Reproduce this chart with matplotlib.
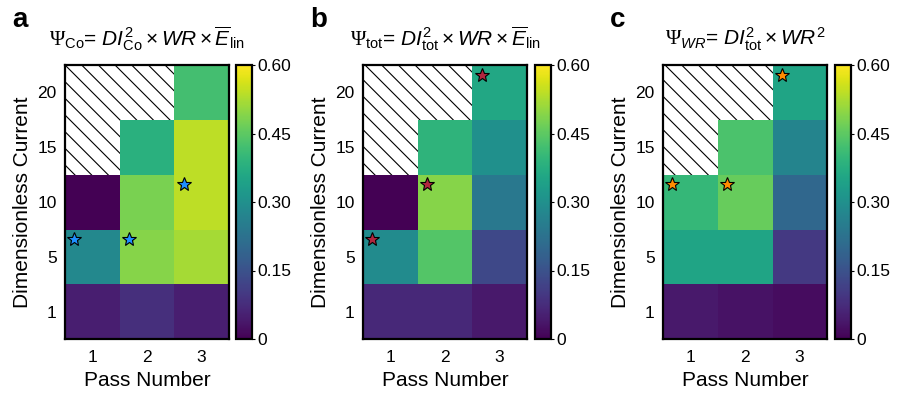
import numpy as np
import matplotlib
matplotlib.use("Agg")
import matplotlib.pyplot as plt
from matplotlib.patches import Rectangle

plt.rcParams["font.family"] = "Liberation Sans"
plt.rcParams["mathtext.fontset"] = "custom"
plt.rcParams["mathtext.rm"] = "Liberation Sans"
plt.rcParams["mathtext.it"] = "Liberation Sans:italic"
plt.rcParams["mathtext.sf"] = "Liberation Serif"
plt.rcParams["hatch.linewidth"] = 0.8

# rows bottom -> top: current 1, 5, 10, 15, 20 ; columns: pass 1, 2, 3
currents = ["1", "5", "10", "15", "20"]
passes = ["1", "2", "3"]

psi_co = [
    [0.05, 0.08, 0.05],
    [0.28, 0.49, 0.52],
    [0.00, 0.48, 0.54],
    [np.nan, 0.38, 0.54],
    [np.nan, np.nan, 0.42],
]
psi_tot = [
    [0.07, 0.07, 0.04],
    [0.29, 0.44, 0.13],
    [0.00, 0.49, 0.24],
    [np.nan, 0.39, 0.30],
    [np.nan, np.nan, 0.36],
]
psi_wr = [
    [0.04, 0.03, 0.02],
    [0.35, 0.35, 0.10],
    [0.40, 0.46, 0.20],
    [np.nan, 0.43, 0.27],
    [np.nan, np.nan, 0.35],
]

# star cells as (pass index, current index)
stars_co = [(0, 1), (1, 1), (2, 2)]
stars_tot = [(0, 1), (1, 2), (2, 4)]
stars_wr = [(0, 2), (1, 2), (2, 4)]

titles = [
    r"$\mathsf{\Psi}_{\mathrm{Co}}$= $DI_{\mathrm{Co}}^{2}\times WR\times\overline{E}_{\mathrm{lin}}$",
    r"$\mathsf{\Psi}_{\mathrm{tot}}$= $DI_{\mathrm{tot}}^{2}\times WR\times\overline{E}_{\mathrm{lin}}$",
    r"$\mathsf{\Psi}_{WR}$= $DI_{\mathrm{tot}}^{2}\times WR^{2}$",
]
letters = ["a", "b", "c"]
star_colors = ["#1f8fff", "#b0263e", "#ff8c00"]

W, H = 897, 398
fig = plt.figure(figsize=(W / 100, H / 100), dpi=100)

ax_lefts = [65, 363, 663]
cb_lefts = [236, 535, 835]
top, bottom = 65, 339

for i, (data, stars) in enumerate(zip([psi_co, psi_tot, psi_wr],
                                      [stars_co, stars_tot, stars_wr])):
    ax = fig.add_axes([ax_lefts[i] / W, (H - bottom) / H, 164 / W, (bottom - top) / H])
    cax = fig.add_axes([cb_lefts[i] / W, (H - bottom) / H, 16 / W, (bottom - top) / H])

    ax.add_patch(Rectangle((-0.5, -0.5), 3, 5, facecolor="white", edgecolor="black",
                           hatch="\\\\", lw=0, zorder=0))
    im = ax.imshow(np.array(data), cmap="viridis", vmin=0, vmax=0.6,
                   origin="lower", aspect="auto", zorder=1)

    for px, cy in stars:
        ax.plot(px - 0.33, cy + 0.32, marker="*", markersize=10,
                markerfacecolor=star_colors[i], markeredgecolor="black",
                markeredgewidth=0.8, zorder=3)

    ax.set_xlim(-0.5, 2.5)
    ax.set_ylim(-0.5, 4.5)
    ax.set_xticks(range(3), passes)
    ax.set_yticks(range(5), currents)
    ax.tick_params(length=0, labelsize=12.5)
    ax.tick_params(axis="x", pad=8)
    ax.tick_params(axis="y", pad=6)
    for s in ax.spines.values():
        s.set_linewidth(1.6)
    ax.set_xlabel("Pass Number", fontsize=15, labelpad=4)
    ax.set_ylabel("Dimensionless Current", fontsize=15, labelpad=4)
    ax.set_title(titles[i], fontsize=15, pad=14)

    cb = fig.colorbar(im, cax=cax, ticks=[0, 0.15, 0.30, 0.45, 0.60])
    cb.ax.set_yticklabels(["0", "0.15", "0.30", "0.45", "0.60"])
    cb.ax.tick_params(length=2, width=0.8, labelsize=12.5, pad=2)
    cb.outline.set_linewidth(1.6)

    fig.text((ax_lefts[i] - 53) / W, 1 - 27 / H, letters[i], fontsize=20,
             fontweight="bold", ha="left", va="baseline")

fig.savefig("out.png", dpi=100)
